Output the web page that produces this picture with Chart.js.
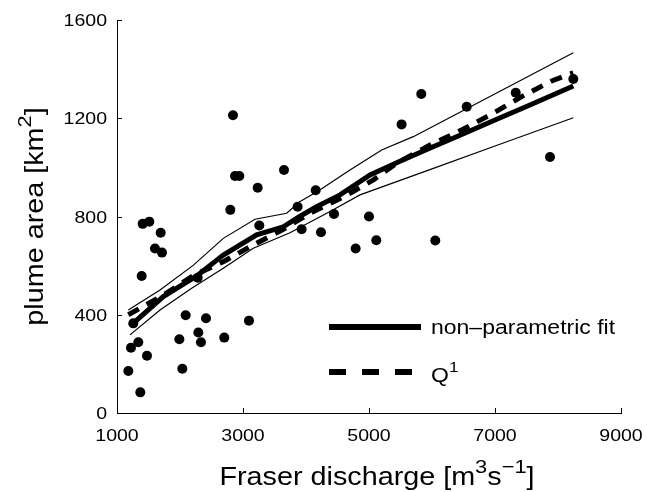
<!DOCTYPE html>
<html>
<head>
<meta charset="utf-8">
<script src="https://cdn.jsdelivr.net/npm/chart.js@4"></script>
<style>
  html, body { margin: 0; padding: 0; background: #fff; }
  #wrap { width: 647px; height: 492px; }
</style>
</head>
<body>
<div id="wrap"><canvas id="plume" width="647" height="492"></canvas></div>
<script>
// observed plume area vs discharge
const discharge = [1180, 1370, 1222, 1338, 1476, 1392, 1408, 1513, 1693, 1603, 1714, 1259, 2090, 1990, 2037,
    2291, 2333, 2413, 2281, 2703, 3095, 2799, 3259, 3867, 3930, 4238, 4444, 4788, 5000, 2841, 2873, 2941,
    3233, 3651, 4154, 5830, 5517, 6551, 7329, 8243, 7873, 5116, 6052];
const area = [171, 84, 266, 288, 233, 558, 770, 779, 734, 670, 653, 365, 398, 300, 180,
    328, 288, 386, 551, 307, 376, 827, 763, 840, 748, 736, 810, 670, 800, 1212, 965, 965,
    917, 989, 907, 1299, 1175, 1247, 1304, 1360, 1042, 703, 702];

// non-parametric fit and its bounds
const fitQ = [1206, 1735, 2265, 2687, 3217, 3640, 3900, 4168, 4540, 5016, 5500, 6000, 6500, 7000, 7500, 8243];
const fitA = [354, 474, 558, 643, 725, 758, 800, 840, 888, 969, 1026, 1082, 1137, 1193, 1248, 1331];
const upQ = [1180, 1683, 2213, 2687, 3190, 3693, 3900, 4200, 4698, 5201, 5703, 6973, 8243];
const upA = [419, 501, 602, 711, 789, 813, 860, 905, 989, 1071, 1125, 1296, 1467];
const loQ = [1206, 1683, 2185, 2687, 3163, 3746, 4381, 4857, 6000, 7000, 8243];
const loA = [318, 419, 508, 589, 671, 734, 820, 888, 994, 1087, 1202];

// Q^1 fit
const q1Q = [1180, 1735, 2213, 2687, 3163, 3640, 4063, 4600, 5069, 5438, 5968, 6470, 6947, 7424, 7900, 8243];
const q1A = [400, 480, 560, 616, 684, 748, 813, 880, 949, 1017, 1091, 1152, 1217, 1288, 1352, 1385];

const xTicks = [1000, 3000, 5000, 7000, 9000];
const yTicks = [0, 400, 800, 1200, 1600];

const pts = (xs, ys) => xs.map((x, i) => ({ x: x, y: ys[i] }));
const FONT = "'Liberation Sans', Arial, Helvetica, sans-serif";
const STRETCH = 1.15;   // text in the original is a bit wider than Arial

//draw a run of text pieces (some raised), stretched horizontally, anchored by align
function richText(ctx, parts, x, y, align) {
    let w = 0;
    parts.forEach(p => {
        ctx.font = p.size + "px " + FONT;
        p.w = ctx.measureText(p.t).width;
        w += p.w;
    });
    w *= STRETCH;
    let start = x;
    if (align === "center") start = x - w / 2;
    if (align === "right") start = x - w;
    ctx.save();
    ctx.translate(start, y);
    ctx.scale(STRETCH, 1);
    ctx.textAlign = "left";
    ctx.textBaseline = "alphabetic";
    let cx = 0;
    parts.forEach(p => {
        ctx.font = p.size + "px " + FONT;
        ctx.fillText(p.t, cx, -(p.up || 0));
        cx += p.w;
    });
    ctx.restore();
}

const extras = {
    id: "extras",
    afterDraw(chart) {
        const ctx = chart.ctx;
        const xs = chart.scales.x, ys = chart.scales.y;
        const a = chart.chartArea;
        ctx.save();
        ctx.strokeStyle = "#000";
        ctx.fillStyle = "#000";
        ctx.lineWidth = 1;
        // inward ticks
        ctx.beginPath();
        xs.ticks.forEach(t => {
            const px = Math.round(xs.getPixelForValue(t.value)) + 0.5;
            ctx.moveTo(px, a.bottom); ctx.lineTo(px, a.bottom - 5);
        });
        ys.ticks.forEach(t => {
            const py = Math.round(ys.getPixelForValue(t.value)) + 0.5;
            ctx.moveTo(a.left, py); ctx.lineTo(a.left + 5, py);
        });
        ctx.stroke();

        // tick labels
        xs.ticks.forEach(t => {
            richText(ctx, [{ t: String(t.value), size: 17 }], xs.getPixelForValue(t.value), 441, "center");
        });
        ys.ticks.forEach(t => {
            richText(ctx, [{ t: String(t.value), size: 17 }], a.left - 10, ys.getPixelForValue(t.value) + 6, "right");
        });

        // axis titles
        richText(ctx, [{ t: "Fraser discharge [m", size: 25 }, { t: "3", size: 19, up: 12 }, { t: "s", size: 25 },
            { t: "\u22121", size: 19, up: 12 }, { t: "]", size: 25 }], 377, 485, "center");
        ctx.save();
        ctx.translate(43, (a.top + a.bottom) / 2);
        ctx.rotate(-Math.PI / 2);
        richText(ctx, [{ t: "plume area [km", size: 25 }, { t: "2", size: 19, up: 12 }, { t: "]", size: 25 }], 0, 0, "center");
        ctx.restore();

        // legend
        ctx.lineWidth = 6;
        ctx.beginPath();
        ctx.moveTo(329, 327); ctx.lineTo(421, 327);
        ctx.stroke();
        ctx.setLineDash([17, 16]);
        ctx.beginPath();
        ctx.moveTo(329, 372); ctx.lineTo(416, 372);
        ctx.stroke();
        ctx.setLineDash([]);
        richText(ctx, [{ t: "non\u2013parametric fit", size: 20 }], 431, 334, "left");
        richText(ctx, [{ t: "Q", size: 20 }, { t: "1", size: 15, up: 10 }], 431, 382, "left");
        ctx.restore();
    }
};

new Chart(document.getElementById("plume"), {
    type: "scatter",
    data: {
        datasets: [
            { data: pts(discharge, area), pointRadius: 5, pointBackgroundColor: "#000", pointBorderWidth: 0, showLine: false },
            { data: pts(fitQ, fitA), showLine: true, borderColor: "#000", borderWidth: 5, pointRadius: 0, tension: 0 },
            { data: pts(upQ, upA), showLine: true, borderColor: "#000", borderWidth: 1.2, pointRadius: 0, tension: 0 },
            { data: pts(loQ, loA), showLine: true, borderColor: "#000", borderWidth: 1.2, pointRadius: 0, tension: 0 },
            { data: pts(q1Q, q1A), showLine: true, borderColor: "#000", borderWidth: 5, borderDash: [12, 9], pointRadius: 0, tension: 0 }
        ]
    },
    options: {
        responsive: false,
        animation: false,
        events: [],
        layout: { padding: { top: 20, right: 26, left: 0, bottom: 0 } },
        plugins: { legend: { display: false }, tooltip: { enabled: false } },
        scales: {
            x: {
                type: "linear", min: 1000, max: 9000,
                afterBuildTicks: s => { s.ticks = xTicks.map(v => ({ value: v })); },
                afterFit: s => { s.height = 79; },
                grid: { display: false },
                border: { display: true, color: "#000", width: 1 },
                ticks: { display: false }
            },
            y: {
                type: "linear", min: 0, max: 1600,
                afterBuildTicks: s => { s.ticks = yTicks.map(v => ({ value: v })); },
                afterFit: s => { s.width = 117; },
                grid: { display: false },
                border: { display: true, color: "#000", width: 1 },
                ticks: { display: false }
            }
        }
    },
    plugins: [extras]
});
</script>
</body>
</html>
